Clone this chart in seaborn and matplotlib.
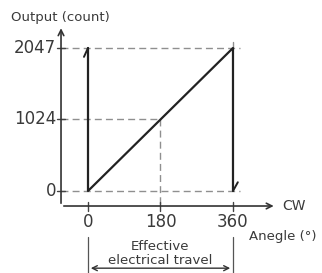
import numpy as np
import pandas as pd
import matplotlib
matplotlib.use("Agg")
import matplotlib.pyplot as plt
import seaborn as sns

# data
angles = [0, 0, 360, 360]
counts = [2047, 0, 2047, 0]
x_ticks = [0, 180, 360]
x_tick_labels = ["0", "180", "360"]
y_ticks = [0, 1024, 2047]
y_tick_labels = ["0", "1024", "2047"]

sns.set_style("white")
plt.rcParams["font.family"] = ["DejaVu Sans"]

fig = plt.figure(figsize=(3.22, 2.73), dpi=100)
ax = fig.add_axes([0, 0, 1, 1])
ax.set_xlim(-218.5, 581)
ax.set_ylim(-1174, 2734)
ax.axis("off")

ink = "#222222"
txt = "#3a3a3a"
dash = "#8f8f8f"
x0 = -67     # where the y axis sits
y0 = -215    # where the x axis sits

# axes drawn as arrows (open heads)
ax.annotate("", xy=(x0, 2370), xytext=(x0, y0),
            arrowprops=dict(arrowstyle="->", color="#333333", lw=1.2, mutation_scale=10))
ax.annotate("", xy=(468, y0), xytext=(x0, y0),
            arrowprops=dict(arrowstyle="->", color="#333333", lw=1.2, mutation_scale=10))

# guide lines
for yv, lab in zip(y_ticks, y_tick_labels):
    xend = 180 if yv == 1024 else 377
    ax.plot([x0, xend], [yv, yv], ls=(0, (5, 3)), color=dash, lw=1)
    ax.plot([x0 - 10, x0 + 10], [yv, yv], color="#444444", lw=1)
    ax.text(x0 - 12, yv, lab, ha="right", va="center", fontsize=12, color=txt)
ax.plot([180, 180], [1024, y0], ls=(0, (5, 3)), color=dash, lw=1)
ax.plot([360, 360], [2047, 2130], color=dash, lw=1)
for xv, lab in zip(x_ticks, x_tick_labels):
    ax.plot([xv, xv], [y0 + 60, y0 - 70], color="#444444", lw=1)
    ax.text(xv, y0 - 95, lab, ha="center", va="top", fontsize=12, color=txt)

# transfer curve
df = pd.DataFrame({"angle": angles, "count": counts})
sns.lineplot(data=df, x="angle", y="count", sort=False, estimator=None,
             color=ink, lw=1.6, ax=ax)
# direction hooks
ax.plot([0, -10], [2047, 1920], color=ink, lw=1.4)
ax.plot([360, 372], [0, 125], color=ink, lw=1.4)

# effective travel dimension
for xv in [0, 360]:
    ax.plot([xv, xv], [-660, -1200], color="#555555", lw=0.9)
ax.annotate("", xy=(0, -1105), xytext=(360, -1105),
            arrowprops=dict(arrowstyle="<->", color="#333333", lw=1, mutation_scale=9))
ax.text(180, -790, "Effective", ha="center", va="center", fontsize=9.5, color=txt)
ax.text(180, -990, "electrical travel", ha="center", va="center", fontsize=9.5, color=txt)

ax.text(-190, 2480, "Output (count)", ha="left", va="center", fontsize=9.5, color=txt)
ax.text(482, y0, "CW", ha="left", va="center", fontsize=10, color=txt)
ax.text(400, -650, "Anegle (°)", ha="left", va="center", fontsize=9.5, color=txt)

fig.savefig("out.png", dpi=100)
